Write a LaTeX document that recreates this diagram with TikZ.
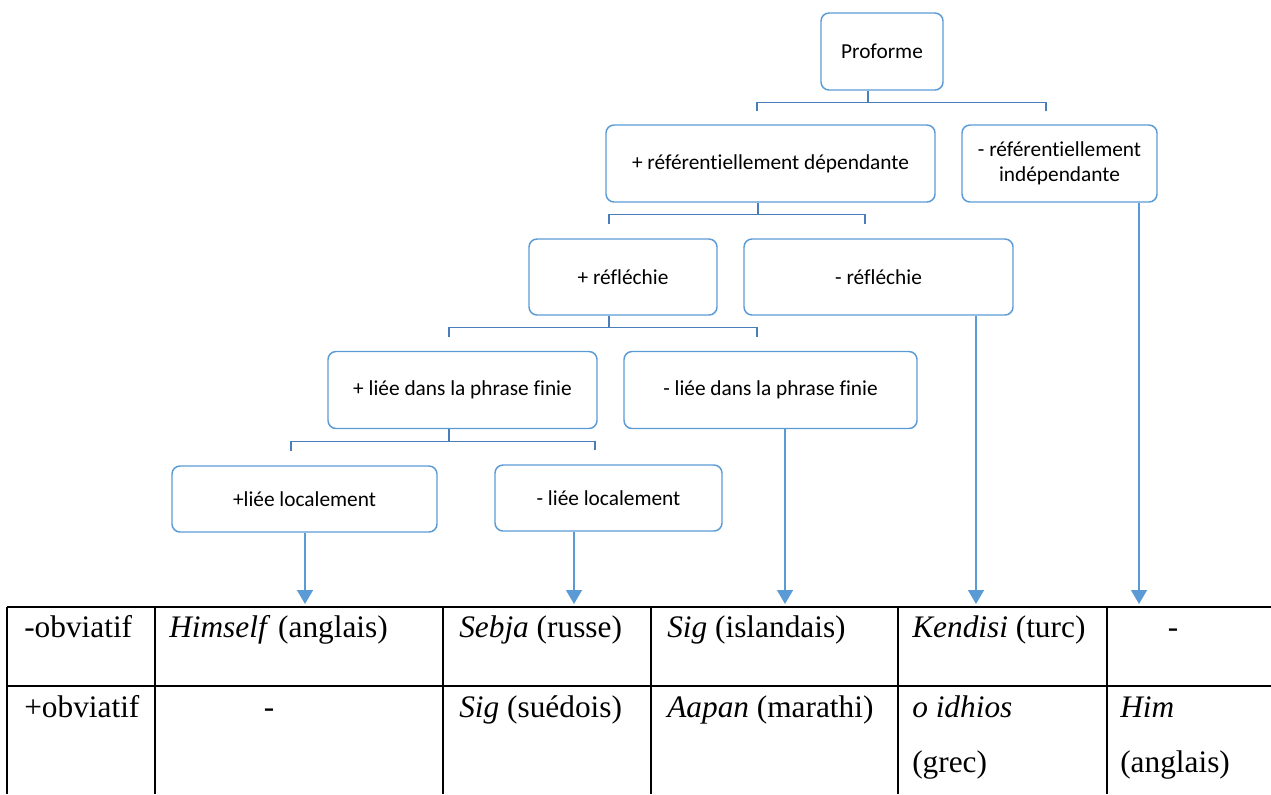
\documentclass[tikz,border=0pt]{standalone}
\usepackage{fontspec}
\setmainfont{Liberation Serif}
\newfontfamily\boxfont[Ligatures=NoCommon]{Carlito}
\usetikzlibrary{arrows.meta,calc}
\definecolor{boxblue}{RGB}{91,155,213}
\definecolor{brblue}{RGB}{74,126,187}
\begin{document}
\begin{tikzpicture}[x=0.75pt,y=-0.75pt,
  bx/.style 2 args={draw=boxblue, line width=1.1pt, rounded corners=6pt,
    minimum width=#1*0.75pt, minimum height=#2*0.75pt, inner sep=0pt,
    align=center, font=\boxfont\fontsize{16}{19}\selectfont},
  br/.style={draw=brblue, line width=1.1pt},
  ar/.style={draw=boxblue, line width=1.1pt, -{Triangle[width=12pt,length=10.5pt]}},
  tl/.style={draw=black, line width=1.6pt},
  cell/.style={anchor=base west, inner sep=0pt, font=\fontsize{23.5}{28}\selectfont},
  cellc/.style={cell, anchor=base}]
\useasboundingbox (0,0) rectangle (1271,794);

% boxes
\node[bx={122}{77}]  (pf)  at (882,51.5)   {Proforme};
\node[bx={329}{77}]  (rd)  at (770.5,163.5) {+ référentiellement dépendante};
\node[bx={195}{77}]  (ri)  at (1059.5,163.5) {- référentiellement\\indépendante};
\node[bx={188}{76}]  (rf)  at (623,277)    {+ réfléchie};
\node[bx={269}{76}]  (nr)  at (878.5,277)  {- réfléchie};
\node[bx={269}{77}]  (lf)  at (462.5,390)  {+ liée dans la phrase finie};
\node[bx={293}{77}]  (nlf) at (770.5,390)  {- liée dans la phrase finie};
\node[bx={265}{66}]  (ll)  at (304.5,499)  {+liée localement};
\node[bx={227}{66}]  (nll) at (608.5,498)  {- liée localement};

% brackets
\draw[br] ($(rd.north)+(-13.5,-13)$) |- ($(pf.south)+(-14,12)$) -- ($(pf.south)+(-14,0)$);
\draw[br] ($(ri.north)+(-13.5,-13)$) |- ($(pf.south)+(-14,12)$);
\draw[br] ($(rf.north)+(-14,-14)$) |- ($(rd.south)+(-12.5,12)$) -- ($(rd.south)+(-12.5,0)$);
\draw[br] ($(nr.north)+(-13.5,-14)$) |- ($(rd.south)+(-12.5,12)$);
\draw[br] ($(lf.north)+(-13.5,-14)$) |- ($(rf.south)+(-14,12)$) -- ($(rf.south)+(-14,0)$);
\draw[br] ($(nlf.north)+(-13.5,-14)$) |- ($(rf.south)+(-14,12)$);
\draw[br] ($(ll.north)+(-13.5,-14)$) |- ($(lf.south)+(-13.5,12)$) -- ($(lf.south)+(-13.5,0)$);
\draw[br] ($(nll.north)+(-13.5,-14)$) |- ($(lf.south)+(-13.5,12)$);

% arrow targets
\coordinate (a1) at (305,604);
\coordinate (a2) at (574,604);
\coordinate (a3) at (785,604);
\coordinate (a4) at (976,604);
\coordinate (a5) at (1139,604);
\draw[ar] (ll.south -| a1) -- (a1);
\draw[ar] (nll.south -| a2) -- (a2);
\draw[ar] (nlf.south -| a3) -- (a3);
\draw[ar] (nr.south -| a4) -- (a4);
\draw[ar] (ri.south -| a5) -- (a5);

% table lines
\draw[tl] (7,607) -- (1271,607);
\draw[tl] (7,686) -- (1271,686);
\foreach \cx in {7,155,443,651,898,1107} {\draw[tl] (\cx,607) -- (\cx,794);}

% table text
\node[cell]  (c11) at (24,637)  {-obviatif};
\node[cell]  (c12) at (169,637) {\textit{Himself} (anglais)};
\node[cell]  (c13) at (459,637) {\textit{Sebja} (russe)};
\node[cell]  (c14) at (667,637) {\textit{Sig} (islandais)};
\node[cell]  (c15) at (912,637) {\textit{Kendisi} (turc)};
\node[cellc] (c16) at (1173,637) {-};
\node[cell]  (c21) at (24,717)  {+obviatif};
\node[cellc] (c22) at (269,717) {-};
\node[cell]  (c23) at (459,717) {\textit{Sig} (suédois)};
\node[cell]  (c24) at (667,717) {\textit{Aapan} (marathi)};
\node[cell]  (c25) at (912,717) {\textit{o idhios}};
\node[cell]  (c25b) at (912,772) {(grec)};
\node[cell]  (c26) at (1120,717) {\textit{Him}};
\node[cell]  (c26b) at (1120,772) {(anglais)};
\end{tikzpicture}
\end{document}
